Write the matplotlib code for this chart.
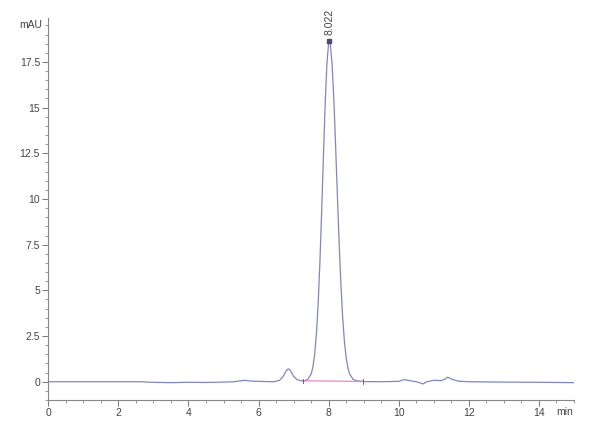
import numpy as np
import matplotlib.pyplot as plt
from matplotlib.ticker import MultipleLocator

plt.rcParams['font.family'] = ['Liberation Sans Narrow', 'Liberation Sans', 'DejaVu Sans']

# chromatogram trace (time in min, signal in mAU)
time = [0.0, 1.0, 2.0, 2.7, 2.8, 3.2, 3.5, 4.0, 4.5, 5.0, 5.3, 5.5, 5.6, 5.7,
        6.0, 6.4, 6.5, 6.6, 6.7, 6.75, 6.8, 6.85, 6.9, 6.95, 7.0, 7.1, 7.2,
        7.3, 7.4, 7.5, 7.55, 7.6, 7.65, 7.7, 7.75, 7.8, 7.85, 7.9, 7.95, 8.0,
        8.02, 8.05, 8.1, 8.15, 8.2, 8.25, 8.3, 8.35, 8.4, 8.45, 8.5, 8.55,
        8.6, 8.7, 8.8, 8.9, 9.0, 9.5, 10.0, 10.15, 10.25, 10.5, 10.7, 10.8,
        11.0, 11.2, 11.3, 11.4, 11.5, 11.7, 12.0, 13.0, 14.0, 15.0]
signal = [0.0, 0.0, 0.0, 0.0, -0.02, -0.04, -0.05, -0.03, -0.04, -0.02, 0.0,
          0.05, 0.08, 0.05, 0.02, 0.0, 0.02, 0.08, 0.28, 0.46, 0.63, 0.7,
          0.64, 0.48, 0.3, 0.11, 0.06, 0.05, 0.12, 0.41, 0.79, 1.46, 2.57,
          4.22, 6.46, 9.22, 12.25, 15.12, 17.37, 18.54, 18.65, 18.46, 17.35,
          15.4, 12.9, 10.2, 7.6, 5.35, 3.55, 2.22, 1.33, 0.76, 0.42, 0.13,
          0.05, 0.03, 0.01, 0.0, 0.02, 0.12, 0.08, 0.0, -0.12, 0.0, 0.08, 0.06,
          0.12, 0.25, 0.15, 0.03, 0.0, -0.02, -0.03, -0.05]

peak_rt = 8.022
peak_height = 18.65
baseline_t = [7.27, 8.97]
baseline_y = [0.05, 0.02]

y_ticks = [0, 2.5, 5, 7.5, 10, 12.5, 15, 17.5]
y_labels = ['0', '2.5', '5', '7.5', '10', '12.5', '15', '17.5']
x_ticks = [0, 2, 4, 6, 8, 10, 12, 14]

fig = plt.figure(figsize=(6, 4.4), dpi=100)
ax = fig.add_axes([0.0805, 0.0909, 0.876, 0.868])

ax.plot(time, signal, color='#8185c4', linewidth=0.9)
ax.plot(baseline_t, baseline_y, color='#e07cc8', linewidth=0.8)
for t, y in zip(baseline_t, baseline_y):
    ax.plot([t, t], [y - 0.12, y + 0.12], color='#555555', linewidth=0.6)

# peak apex marker and retention time label
ax.plot(peak_rt, peak_height, marker='s', markersize=3, color='#4a4a70')
ax.text(peak_rt, peak_height + 0.35, f'{peak_rt:.3f}', rotation=90,
        ha='center', va='bottom', fontsize=7.5, color='#444444')

ax.set_xlim(0, 15)
ax.set_ylim(-1.0, 19.9)
ax.xaxis.set_minor_locator(MultipleLocator(0.5))
ax.yaxis.set_minor_locator(MultipleLocator(0.5))
ax.set_yticks(y_ticks)
ax.set_yticklabels(y_labels)
ax.set_xticks(x_ticks)

for s in ['top', 'right']:
    ax.spines[s].set_visible(False)
for s in ['left', 'bottom']:
    ax.spines[s].set_color('#888888')
    ax.spines[s].set_linewidth(0.8)

ax.tick_params(which='major', length=4, width=0.7, color='#777777',
               labelsize=7.5, labelcolor='#444444', pad=2)
ax.tick_params(which='minor', length=2, width=0.6, color='#888888')

ax.text(-0.012, 19.5, 'mAU', transform=ax.get_yaxis_transform(),
        ha='right', va='center', fontsize=7.5, color='#444444')
ax.annotate('min', xy=(14.75, 0), xycoords=('data', 'axes fraction'),
            xytext=(0, -5), textcoords='offset points', ha='center', va='top',
            fontsize=7.5, color='#444444')

fig.savefig('out.png', dpi=100)
